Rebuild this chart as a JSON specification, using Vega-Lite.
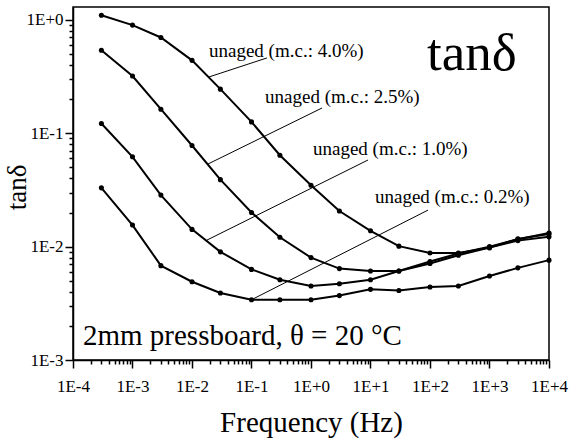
{
  "$schema": "https://vega.github.io/schema/vega-lite/v6.json",
  "width": 476,
  "height": 353,
  "autosize": "none",
  "padding": {"left": 73, "top": 7, "right": 22, "bottom": 79},
  "background": "white",
  "config": {
    "view": {"stroke": "black", "strokeWidth": 1.5},
    "font": "Liberation Serif",
    "axis": {"labelFont": "Liberation Serif", "titleFont": "Liberation Serif", "labelColor": "black", "titleColor": "black", "domainColor": "black", "tickColor": "black", "domainWidth": 1.5, "tickWidth": 1.5, "grid": false, "titleFontWeight": "normal"}
  },
  "datasets": {
    "curves": [
      {"series": "4.0", "f": 0.0003, "tand": 1.1},
      {"series": "4.0", "f": 0.001, "tand": 0.9},
      {"series": "4.0", "f": 0.003, "tand": 0.7},
      {"series": "4.0", "f": 0.01, "tand": 0.44},
      {"series": "4.0", "f": 0.03, "tand": 0.245},
      {"series": "4.0", "f": 0.1, "tand": 0.126},
      {"series": "4.0", "f": 0.3, "tand": 0.064},
      {"series": "4.0", "f": 1, "tand": 0.0348},
      {"series": "4.0", "f": 3, "tand": 0.0206},
      {"series": "4.0", "f": 10, "tand": 0.0138},
      {"series": "4.0", "f": 30, "tand": 0.0101},
      {"series": "4.0", "f": 100, "tand": 0.0088},
      {"series": "4.0", "f": 300, "tand": 0.0088},
      {"series": "4.0", "f": 1000, "tand": 0.0098},
      {"series": "4.0", "f": 3000, "tand": 0.0117},
      {"series": "4.0", "f": 10000, "tand": 0.0129},
      {"series": "2.5", "f": 0.0003, "tand": 0.54},
      {"series": "2.5", "f": 0.001, "tand": 0.32},
      {"series": "2.5", "f": 0.003, "tand": 0.163},
      {"series": "2.5", "f": 0.01, "tand": 0.078},
      {"series": "2.5", "f": 0.03, "tand": 0.039},
      {"series": "2.5", "f": 0.1, "tand": 0.02},
      {"series": "2.5", "f": 0.3, "tand": 0.0121},
      {"series": "2.5", "f": 1, "tand": 0.008},
      {"series": "2.5", "f": 3, "tand": 0.0064},
      {"series": "2.5", "f": 10, "tand": 0.0061},
      {"series": "2.5", "f": 30, "tand": 0.0061},
      {"series": "2.5", "f": 100, "tand": 0.0074},
      {"series": "2.5", "f": 300, "tand": 0.0087},
      {"series": "2.5", "f": 1000, "tand": 0.01},
      {"series": "2.5", "f": 3000, "tand": 0.0116},
      {"series": "2.5", "f": 10000, "tand": 0.0132},
      {"series": "1.0", "f": 0.0003, "tand": 0.122},
      {"series": "1.0", "f": 0.001, "tand": 0.062},
      {"series": "1.0", "f": 0.003, "tand": 0.0285},
      {"series": "1.0", "f": 0.01, "tand": 0.0142},
      {"series": "1.0", "f": 0.03, "tand": 0.009},
      {"series": "1.0", "f": 0.1, "tand": 0.0063},
      {"series": "1.0", "f": 0.3, "tand": 0.0051},
      {"series": "1.0", "f": 1, "tand": 0.0045},
      {"series": "1.0", "f": 3, "tand": 0.0047},
      {"series": "1.0", "f": 10, "tand": 0.0051},
      {"series": "1.0", "f": 30, "tand": 0.0061},
      {"series": "1.0", "f": 100, "tand": 0.0071},
      {"series": "1.0", "f": 300, "tand": 0.0084},
      {"series": "1.0", "f": 1000, "tand": 0.0098},
      {"series": "1.0", "f": 3000, "tand": 0.0113},
      {"series": "1.0", "f": 10000, "tand": 0.0122},
      {"series": "0.2", "f": 0.0003, "tand": 0.033},
      {"series": "0.2", "f": 0.001, "tand": 0.0155},
      {"series": "0.2", "f": 0.003, "tand": 0.0068},
      {"series": "0.2", "f": 0.01, "tand": 0.0049},
      {"series": "0.2", "f": 0.03, "tand": 0.0039},
      {"series": "0.2", "f": 0.1, "tand": 0.0034},
      {"series": "0.2", "f": 0.3, "tand": 0.0034},
      {"series": "0.2", "f": 1, "tand": 0.0034},
      {"series": "0.2", "f": 3, "tand": 0.0037},
      {"series": "0.2", "f": 10, "tand": 0.0042},
      {"series": "0.2", "f": 30, "tand": 0.0041},
      {"series": "0.2", "f": 100, "tand": 0.0044},
      {"series": "0.2", "f": 300, "tand": 0.0045},
      {"series": "0.2", "f": 1000, "tand": 0.0055},
      {"series": "0.2", "f": 3000, "tand": 0.0065},
      {"series": "0.2", "f": 10000, "tand": 0.0076}
    ],
    "leaders": [
      {"x1": 0.0193, "y1": 0.314, "x2": 0.182, "y2": 0.462},
      {"x1": 0.0186, "y1": 0.0536, "x2": 1.53, "y2": 0.167},
      {"x1": 0.0179, "y1": 0.01143, "x2": 9.08, "y2": 0.0581},
      {"x1": 0.1, "y1": 0.0034, "x2": 92.5, "y2": 0.021}
    ],
    "labels": [
      {"x": 0.0193, "y": 0.471, "text": "unaged (m.c.: 4.0%)"},
      {"x": 0.169, "y": 0.185, "text": "unaged (m.c.: 2.5%)"},
      {"x": 1.08, "y": 0.0643, "text": "unaged (m.c.: 1.0%)"},
      {"x": 11.9, "y": 0.0243, "text": "unaged (m.c.: 0.2%)"}
    ],
    "big": [
      {"x": 89, "y": 0.362, "text": "tanδ", "kind": "title"},
      {"x": 0.000147, "y": 0.001355, "text": "2mm pressboard, θ = 20 °C", "kind": "note"}
    ]
  },
  "layer": [
    {
      "data": {"name": "curves"},
      "mark": {"type": "line", "color": "black", "strokeWidth": 2, "point": {"filled": true, "color": "black", "size": 26}},
      "encoding": {
        "x": {
          "field": "f", "type": "quantitative",
          "scale": {"type": "log", "domain": [0.0001, 10000], "nice": false},
          "axis": {
            "title": "Frequency (Hz)", "titleFontSize": 29, "titlePadding": 14,
            "labelFontSize": 17, "labelPadding": 10, "labelOverlap": false, "labelFlush": false,
            "values": [0.0001,0.0002,0.0003,0.0004,0.0005,0.0006,0.0007,0.0008,0.0009,0.001,0.002,0.003,0.004,0.005,0.006,0.007,0.008,0.009,0.01,0.02,0.03,0.04,0.05,0.06,0.07,0.08,0.09,0.1,0.2,0.3,0.4,0.5,0.6,0.7,0.8,0.9,1,2,3,4,5,6,7,8,9,10,20,30,40,50,60,70,80,90,100,200,300,400,500,600,700,800,900,1000,2000,3000,4000,5000,6000,7000,8000,9000,10000],
            "labelExpr": "abs(log(datum.value)/LN10 - round(log(datum.value)/LN10)) < 0.01 ? ('1E' + (round(log(datum.value)/LN10) >= 0 ? '+' : '-') + abs(round(log(datum.value)/LN10))) : ''",
            "tickSize": {"condition": {"test": "abs(log(datum.value)/LN10 - round(log(datum.value)/LN10)) < 0.01", "value": 8}, "value": 4}
          }
        },
        "y": {
          "field": "tand", "type": "quantitative",
          "scale": {"type": "log", "domain": [0.001, 1.3], "nice": false},
          "axis": {
            "title": "tanδ", "titleFontSize": 27, "titleX": -48, "titleY": 180, "titleAngle": -90, "titleAlign": "center", "titleBaseline": "alphabetic",
            "labelFontSize": 17, "labelPadding": 2, "labelOverlap": false, "labelFlush": false,
            "values": [0.001,0.002,0.003,0.004,0.005,0.006,0.007,0.008,0.009,0.01,0.02,0.03,0.04,0.05,0.06,0.07,0.08,0.09,0.1,0.2,0.3,0.4,0.5,0.6,0.7,0.8,0.9,1],
            "labelExpr": "abs(log(datum.value)/LN10 - round(log(datum.value)/LN10)) < 0.01 ? ('1E' + (round(log(datum.value)/LN10) >= 0 ? '+' : '-') + abs(round(log(datum.value)/LN10))) : ''",
            "tickSize": {"condition": {"test": "abs(log(datum.value)/LN10 - round(log(datum.value)/LN10)) < 0.01", "value": 8}, "value": 4}
          }
        },
        "detail": {"field": "series"}
      }
    },
    {
      "data": {"name": "leaders"},
      "mark": {"type": "rule", "color": "black", "strokeWidth": 1},
      "encoding": {
        "x": {"field": "x1", "type": "quantitative"},
        "y": {"field": "y1", "type": "quantitative"},
        "x2": {"field": "x2"},
        "y2": {"field": "y2"}
      }
    },
    {
      "data": {"name": "labels"},
      "mark": {"type": "text", "align": "left", "baseline": "alphabetic", "fontSize": 19, "font": "Liberation Serif", "color": "black"},
      "encoding": {
        "x": {"field": "x", "type": "quantitative"},
        "y": {"field": "y", "type": "quantitative"},
        "text": {"field": "text"}
      }
    },
    {
      "data": {"name": "big"},
      "transform": [{"filter": "datum.kind === 'title'"}],
      "mark": {"type": "text", "align": "left", "baseline": "alphabetic", "fontSize": 53, "font": "Liberation Serif", "color": "black"},
      "encoding": {
        "x": {"field": "x", "type": "quantitative"},
        "y": {"field": "y", "type": "quantitative"},
        "text": {"field": "text"}
      }
    },
    {
      "data": {"name": "big"},
      "transform": [{"filter": "datum.kind === 'note'"}],
      "mark": {"type": "text", "align": "left", "baseline": "alphabetic", "fontSize": 29, "font": "Liberation Serif", "color": "black"},
      "encoding": {
        "x": {"field": "x", "type": "quantitative"},
        "y": {"field": "y", "type": "quantitative"},
        "text": {"field": "text"}
      }
    }
  ]
}
